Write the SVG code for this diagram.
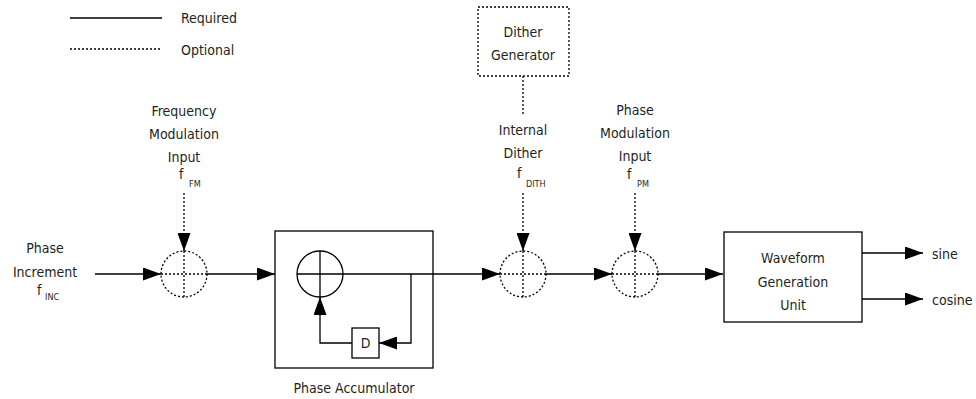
<svg xmlns="http://www.w3.org/2000/svg" width="976" height="399" viewBox="0 0 976 399">
<defs>
<style>
text{font-family:"Liberation Sans Narrow","DejaVu Sans Condensed","Open Sans",sans-serif;font-size:14px;fill:#231f20}
.c{text-anchor:middle}
.sub{font-size:9px}
.s{stroke:#000;stroke-width:1.3;fill:none}
.d{stroke:#000;stroke-width:1.3;fill:none;stroke-dasharray:2 2}
.box{stroke:#000;stroke-width:1.3;fill:none}
</style>
<marker id="ah" viewBox="0 0 18 13" refX="18" refY="6.5" markerWidth="18" markerHeight="13" markerUnits="userSpaceOnUse" orient="auto">
<path d="M0,0 L18,6.5 L0,13 Z" fill="#000"/>
</marker>
</defs>
<rect width="976" height="399" fill="#fff"/>

<g id="legend">
<line class="s" x1="70" y1="18" x2="162" y2="18"/>
<text x="181" y="23">Required</text>
<line class="d" x1="70" y1="49" x2="162" y2="49"/>
<text x="181" y="55">Optional</text>
</g>

<g id="phase-increment">
<text class="c" x="45" y="253">Phase</text>
<text class="c" x="45" y="277">Increment</text>
<text x="37" y="295">f</text>
<text class="sub" x="45" y="300">INC</text>
</g>

<g id="fm-input">
<text class="c" x="184" y="116">Frequency</text>
<text class="c" x="184" y="139">Modulation</text>
<text class="c" x="184" y="162">Input</text>
<text x="179" y="179">f</text>
<text class="sub" x="189" y="187">FM</text>
</g>

<g id="adder-fm">
<circle class="d" cx="184" cy="274" r="23"/>
<line class="d" x1="161" y1="274" x2="207" y2="274"/>
<line class="d" x1="184" y1="251" x2="184" y2="297"/>
</g>

<g id="phase-accumulator">
<rect class="box" x="275" y="231" width="158" height="137"/>
<circle class="s" cx="320" cy="274" r="23"/>
<line class="s" x1="297" y1="274" x2="343" y2="274"/>
<line class="s" x1="320" y1="251" x2="320" y2="297"/>
<text class="c" x="354" y="393">Phase Accumulator</text>
</g>

<g id="delay">
<rect class="box" x="352" y="328" width="27" height="30"/>
<text class="c" x="365.5" y="348">D</text>
</g>

<g id="dither-generator">
<rect class="d" x="478" y="7" width="91" height="69"/>
<text class="c" x="523" y="37">Dither</text>
<text class="c" x="523" y="60">Generator</text>
</g>

<g id="internal-dither">
<text class="c" x="523" y="135">Internal</text>
<text class="c" x="523" y="158">Dither</text>
<text x="517" y="178">f</text>
<text class="sub" x="526" y="187">DITH</text>
</g>

<g id="adder-dither">
<circle class="d" cx="523" cy="274" r="23"/>
<line class="d" x1="500" y1="274" x2="546" y2="274"/>
<line class="d" x1="523" y1="251" x2="523" y2="297"/>
</g>

<g id="pm-input">
<text class="c" x="635" y="115">Phase</text>
<text class="c" x="635" y="138">Modulation</text>
<text class="c" x="635" y="161">Input</text>
<text x="627" y="179">f</text>
<text class="sub" x="637" y="187">PM</text>
</g>

<g id="adder-pm">
<circle class="d" cx="635" cy="274" r="23"/>
<line class="d" x1="612" y1="274" x2="658" y2="274"/>
<line class="d" x1="635" y1="251" x2="635" y2="297"/>
</g>

<g id="waveform-generation-unit">
<rect class="box" x="724" y="232" width="138" height="90"/>
<text class="c" x="793" y="263">Waveform</text>
<text class="c" x="793" y="287">Generation</text>
<text class="c" x="793" y="310">Unit</text>
</g>

<g id="outputs">
<text x="932" y="259">sine</text>
<text x="932" y="305">cosine</text>
</g>

<g id="connectors">
<line class="s" x1="95" y1="274" x2="161" y2="274" marker-end="url(#ah)"/>
<line class="d" x1="184" y1="193" x2="184" y2="251" marker-end="url(#ah)"/>
<line class="s" x1="207" y1="274" x2="275" y2="274" marker-end="url(#ah)"/>
<line class="s" x1="343" y1="274" x2="500" y2="274" marker-end="url(#ah)"/>
<polyline class="s" points="411,274 411,343 379,343" marker-end="url(#ah)"/>
<polyline class="s" points="352,343 320,343 320,297" marker-end="url(#ah)"/>
<line class="d" x1="523" y1="76" x2="523" y2="116"/>
<line class="d" x1="523" y1="193" x2="523" y2="251" marker-end="url(#ah)"/>
<line class="s" x1="546" y1="274" x2="612" y2="274" marker-end="url(#ah)"/>
<line class="d" x1="635" y1="193" x2="635" y2="251" marker-end="url(#ah)"/>
<line class="s" x1="658" y1="274" x2="723" y2="274" marker-end="url(#ah)"/>
<line class="s" x1="862" y1="253" x2="923" y2="253" marker-end="url(#ah)"/>
<line class="s" x1="862" y1="299" x2="923" y2="299" marker-end="url(#ah)"/>
</g>
</svg>
